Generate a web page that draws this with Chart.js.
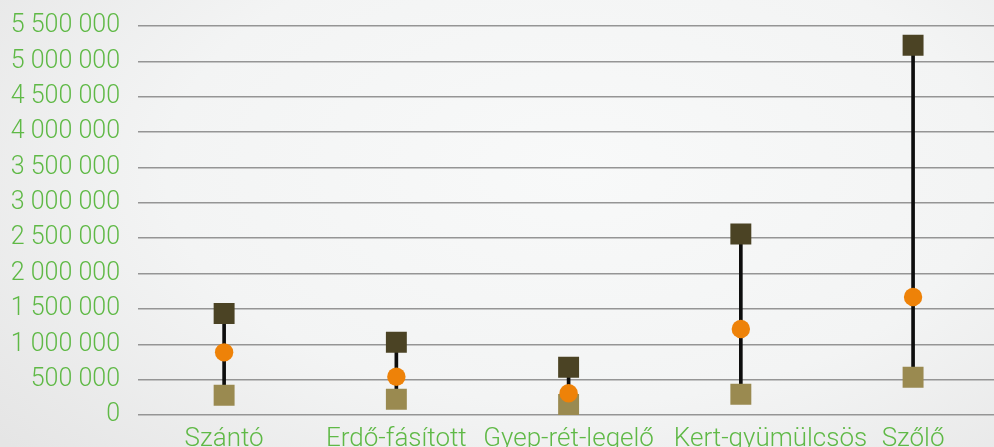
<!DOCTYPE html>
<html>
<head>
<meta charset="utf-8">
<script src="https://cdn.jsdelivr.net/npm/chart.js@4.4.0/dist/chart.umd.min.js"></script>
<style>
    html, body { margin: 0; padding: 0; overflow: hidden; }
    body {
        width: 994px; height: 447px;
        background: radial-gradient(ellipse 75% 95% at 58% 38%, #f8f9f9 0%, #f3f4f4 55%, #e5e5e5 100%);
    }
    #wrap { position: absolute; left: 0; top: 0; width: 1014px; height: 447px; }
</style>
</head>
<body>
<div id="wrap"><canvas id="chart"></canvas></div>
<script>
const categories = ['Szántó', 'Erdő-fásított', 'Gyep-rét-legelő', 'Kert-gyümülcsös', 'Szőlő'];
const highValues = [1435000, 1028000, 674000, 2559000, 5228000];
const midValues = [886000, 541000, 307000, 1216000, 1669000];
const lowValues = [278000, 222000, 148000, 293000, 533000];
const yTicksMax = 5500000;
const yTicksStep = 500000;

const colorGreen = '#5fb946';
const colorHigh = '#4b4324';
const colorLow = '#9a8a50';
const colorMid = '#ee8208';

function fmt(v) {
    return String(v).replace(/\B(?=(\d{3})+(?!\d))/g, ' ');
}

const ranges = categories.map((c, i) => [lowValues[i], highValues[i]]);

new Chart(document.getElementById('chart').getContext('2d'), {
    type: 'bar',
    data: {
        labels: categories,
        datasets: [
            {
                type: 'line',
                data: midValues,
                showLine: false,
                pointStyle: 'circle',
                pointRadius: 9.2,
                pointBackgroundColor: colorMid,
                pointBorderWidth: 0,
                order: 0
            },
            {
                type: 'line',
                data: highValues,
                showLine: false,
                pointStyle: 'rect',
                pointRadius: 14.8,
                pointBackgroundColor: colorHigh,
                pointBorderWidth: 0,
                order: 1
            },
            {
                type: 'line',
                data: lowValues,
                showLine: false,
                pointStyle: 'rect',
                pointRadius: 14.8,
                pointBackgroundColor: colorLow,
                pointBorderWidth: 0,
                order: 2
            },
            {
                data: ranges,
                backgroundColor: '#0d0d0d',
                barThickness: 3,
                order: 3
            }
        ]
    },
    options: {
        responsive: true,
        maintainAspectRatio: false,
        animation: false,
        layout: { padding: { top: 26, right: 0, bottom: 0, left: 0 } },
        plugins: { legend: { display: false }, tooltip: { enabled: false } },
        scales: {
            x: {
                offset: true,
                grid: { display: false, drawTicks: false },
                border: { display: false },
                ticks: {
                    color: colorGreen,
                    font: { family: 'Roboto', size: 26, weight: '300' },
                    padding: 9,
                    maxRotation: 0,
                    autoSkip: false,
                    // the long 4th label sits a bit to the right in the original
                    callback: function(v, i) {
                        const s = categories[i];
                        return i === 3 ? '\u2002\u2002\u2002\u2002 ' + s : s;
                    }
                },
                afterFit: function(scale) { scale.height = 32; }
            },
            y: {
                min: 0,
                max: yTicksMax,
                grid: { color: '#959595', lineWidth: 1.5, drawTicks: false },
                border: { display: false },
                ticks: {
                    stepSize: yTicksStep,
                    color: colorGreen,
                    font: { family: 'Roboto', size: 25, weight: '300' },
                    padding: 18,
                    callback: function(v) { return fmt(v); }
                },
                afterFit: function(scale) {
                    scale.width = 138;
                    scale.paddingTop = 0;
                    scale.paddingBottom = 0;
                }
            }
        }
    }
});
</script>
</body>
</html>
